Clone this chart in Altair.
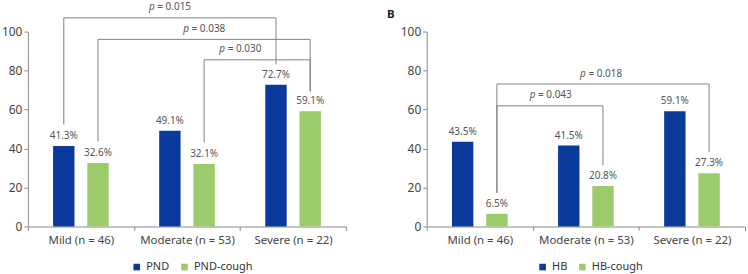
import altair as alt
import pandas as pd

# Severity groups shared by both panels
categories = ["Mild (n = 46)", "Moderate (n = 53)", "Severe (n = 22)"]

# Panel A: postnasal drip
pnd_series = ["PND", "PND-cough"]
pnd_values = [41.3, 49.1, 72.7]
pnd_cough_values = [32.6, 32.1, 59.1]

# Panel B: heartburn
hb_series = ["HB", "HB-cough"]
hb_values = [43.5, 41.5, 59.1]
hb_cough_values = [6.5, 20.8, 27.3]

# Significance brackets: p-value, from/to group index, series index,
# bracket height and the heights where each leg stops (percent units)
pnd_p = ["0.015", "0.038", "0.030"]
pnd_p_from = [0, 0, 1]
pnd_p_to = [2, 2, 2]
pnd_p_series = [0, 1, 1]
pnd_p_top = [107.0, 96.0, 85.5]
pnd_p_end_from = [52.3, 43.7, 43.1]
pnd_p_end_to = [83.2, 69.3, 69.3]

hb_p = ["0.018", "0.043"]
hb_p_from = [0, 0]
hb_p_to = [2, 1]
hb_p_series = [1, 1]
hb_p_top = [73.1, 61.9]
hb_p_end_from = [17.3, 17.3]
hb_p_end_to = [38.1, 31.5]

# Where each p label sits: anchor group, anchor series, pixel shift
pnd_p_anchor = [(1, 0, 0), (1, 1, 0), (2, 0, -36)]
hb_p_anchor = [(1, 1, -2), (0, 1, 54)]
# small horizontal nudges so overlapping legs stay apart (px)
pnd_p_nudge = [0, 1.5, -1.5]
hb_p_nudge = [-2, 2]

panel_tag = "B"

BLUE = "#0a3a9c"
GREEN = "#9ccb6c"
LINE = "#808080"
AXIS = "#8a8a8a"
TEXT = "#555555"
FONT = "Noto Sans"
BAR_W = 21.5

X_AXIS = alt.Axis(
    title=None, labelAngle=0, tickBand="extent", tickSize=4,
    labelFontSize=11.5, labelColor="#444444", labelFont=FONT,
    labelPadding=4, domainColor=AXIS, tickColor=AXIS, grid=False,
)
Y_AXIS = alt.Axis(
    title=None, values=[0, 20, 40, 60, 80, 100], tickSize=4,
    labelFontSize=12, labelColor="#444444", labelFont=FONT,
    labelPadding=2, domainColor=AXIS, tickColor=AXIS, grid=False,
)


def x_enc(field):
    return alt.X(
        f"{field}:N",
        sort=categories,
        scale=alt.Scale(domain=categories, paddingInner=0, paddingOuter=0),
        axis=X_AXIS,
    )


def xo_enc(series, band=0.5):
    return alt.XOffset(
        "series:N",
        sort=series,
        bandPosition=band,
        scale=alt.Scale(domain=series, paddingInner=0.38, paddingOuter=0.74),
    )


def y_enc(field):
    return alt.Y(
        f"{field}:Q",
        scale=alt.Scale(domain=[0, 100], nice=False),
        axis=Y_AXIS,
    )


def panel(series, first, second, p_vals, p_from, p_to, p_ser, p_top,
          p_end_from, p_end_to, p_anchor, p_nudge, legend_x, tag=None):
    bars_df = pd.DataFrame({
        "category": categories * 2,
        "series": [series[0]] * 3 + [series[1]] * 3,
        "value": first + second,
    })
    bars_df["label"] = bars_df["value"].map(lambda v: f"{v:.1f}%")

    bars = alt.Chart(bars_df).mark_bar(width=BAR_W).encode(
        x=x_enc("category"),
        xOffset=xo_enc(series),
        y=y_enc("value"),
        color=alt.Color(
            "series:N",
            scale=alt.Scale(domain=series, range=[BLUE, GREEN]),
            legend=alt.Legend(
                title=None, orient="none", direction="horizontal",
                legendX=legend_x, legendY=231, symbolType="square",
                symbolSize=44, symbolStrokeWidth=0, labelFontSize=11,
                labelFont=FONT, labelColor="#333333", columnPadding=9,
                labelOffset=4, padding=0,
            ),
        ),
    )

    labels = alt.Chart(bars_df).mark_text(
        dy=-7, baseline="alphabetic", fontSize=10, font=FONT, color=TEXT
    ).encode(
        x=x_enc("category"),
        xOffset=xo_enc(series),
        y=y_enc("value"),
        text="label:N",
    )

    layers = [bars, labels]

    for i, p in enumerate(p_vals):
        band = 0.5 + p_nudge[i] / BAR_W
        s = series[p_ser[i]]
        c1, c2 = categories[p_from[i]], categories[p_to[i]]
        # bracket path: left leg up, across, right leg down
        path = pd.DataFrame({
            "category": [c1, c1, c2, c2],
            "series": [s] * 4,
            "h": [p_end_from[i], p_top[i], p_top[i], p_end_to[i]],
            "step": [0, 1, 2, 3],
        })
        layers.append(
            alt.Chart(path).mark_line(color=LINE, strokeWidth=1).encode(
                x=x_enc("category"),
                xOffset=xo_enc(series, band),
                y=y_enc("h"),
                order="step:Q",
            )
        )

        a_cat, a_ser, shift = p_anchor[i]
        lab = pd.DataFrame({
            "category": [categories[a_cat]],
            "series": [series[a_ser]],
            "h": [p_top[i]],
            "p": ["p"],
            "rest": [f"= {p}"],
        })
        base = alt.Chart(lab).encode(
            x=x_enc("category"),
            xOffset=xo_enc(series),
            y=y_enc("h"),
        )
        layers.append(
            base.mark_text(
                align="right", baseline="middle", dy=-10.5, dx=shift - 15.2,
                fontSize=10, font=FONT, fontStyle="italic", color=TEXT,
            ).encode(text="p:N")
        )
        layers.append(
            base.mark_text(
                align="left", baseline="middle", dy=-10.5, dx=shift - 12.6,
                fontSize=10, font=FONT, color=TEXT,
            ).encode(text="rest:N")
        )

    if tag:
        tag_df = pd.DataFrame({"tag": [tag]})
        layers.append(
            alt.Chart(tag_df).mark_text(
                fontSize=11.5, fontWeight="bold", font=FONT, color="#222222",
                align="center", baseline="middle",
            ).encode(x=alt.value(-36), y=alt.value(-17), text="tag:N")
        )

    return alt.layer(*layers).properties(width=320, height=196)


left = panel(pnd_series, pnd_values, pnd_cough_values, pnd_p, pnd_p_from,
             pnd_p_to, pnd_p_series, pnd_p_top, pnd_p_end_from, pnd_p_end_to,
             pnd_p_anchor, pnd_p_nudge, legend_x=104)
right = panel(hb_series, hb_values, hb_cough_values, hb_p, hb_p_from,
              hb_p_to, hb_p_series, hb_p_top, hb_p_end_from, hb_p_end_to,
              hb_p_anchor, hb_p_nudge, legend_x=111, tag=panel_tag)

chart = alt.hconcat(left, right, spacing=40).resolve_scale(
    x="independent", y="independent", color="independent",
    xOffset="independent",
).resolve_legend(color="independent").properties(
    padding={"top": 1, "left": 1, "right": 2, "bottom": 0},
    background="white",
).configure_view(stroke=None)

chart.save("out.html", embed_options={"renderer": "svg", "actions": False})
